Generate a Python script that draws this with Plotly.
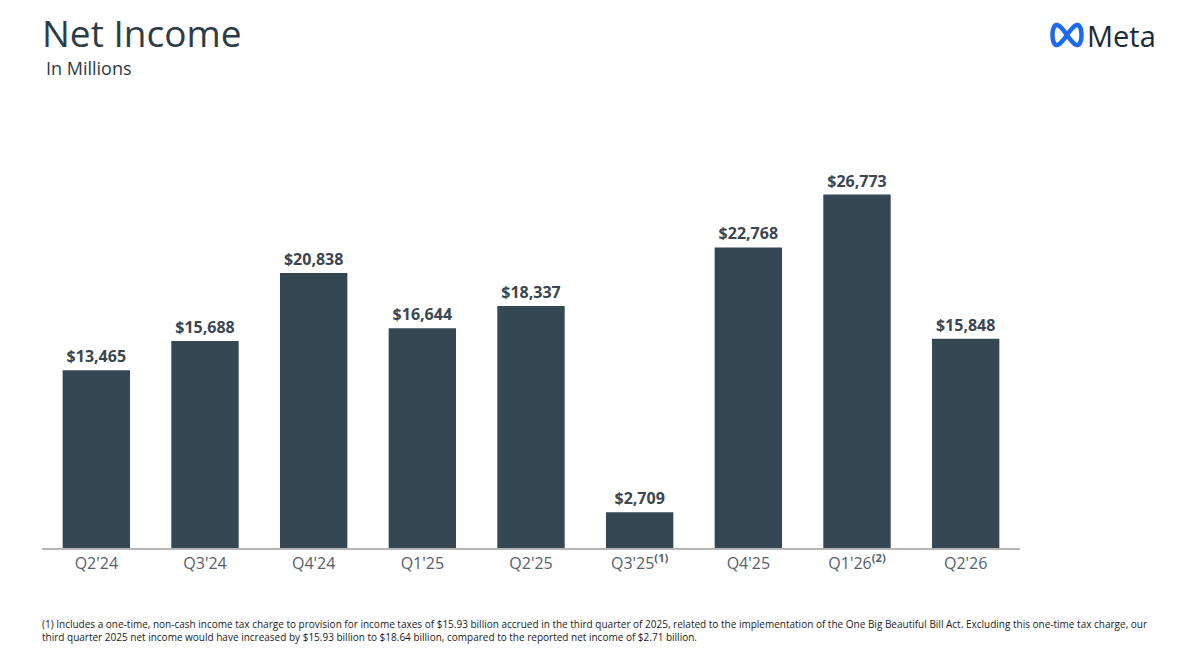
import math
import plotly.graph_objects as go

categories = ["Q2'24", "Q3'24", "Q4'24", "Q1'25", "Q2'25", "Q3'25", "Q4'25", "Q1'26", "Q2'26"]
tick_labels = ["Q2'24", "Q3'24", "Q4'24", "Q1'25", "Q2'25",
               "Q3'25<sup><b>(1)</b></sup>", "Q4'25", "Q1'26<sup><b>(2)</b></sup>", "Q2'26"]
net_income = [13465, 15688, 20838, 16644, 18337, 2709, 22768, 26773, 15848]

footnote = ("(1) Includes a one-time, non-cash income tax charge to provision for income taxes of $15.93 billion accrued in the third quarter of 2025, "
            "related to the implementation of the One Big Beautiful Bill Act. Excluding this one-time tax charge, our<br>"
            "third quarter 2025 net income would have increased by $15.93 billion to $18.64 billion, compared to the reported net income of $2.71 billion.")

W, H = 1200, 651
ML, MR, MT, MB = 42, 180, 152, 103

def px(x):
    return (x - ML) / (W - ML - MR)

def py(y):
    return (H - MB - y) / (H - MT - MB)

BAR = "#354752"
fig = go.Figure()
fig.add_trace(go.Bar(
    x=categories, y=net_income,
    marker=dict(color=BAR, line=dict(width=0)),
    texttemplate="$%{y:,}", textposition="outside",
    textfont=dict(family="Open Sans", size=16, color="#3a4650", weight="bold"),
    cliponaxis=False, hoverinfo="skip",
))

fig.update_layout(
    width=W, height=H,
    margin=dict(l=ML, r=MR, t=MT, b=MB),
    paper_bgcolor="white", plot_bgcolor="white",
    bargap=0.38, showlegend=False,
    xaxis=dict(tickmode="array", tickvals=categories, ticktext=tick_labels,
               showline=True, linecolor="#b5b5b5", linewidth=1.5,
               ticks="", showgrid=False,
               tickfont=dict(family="Open Sans", size=16, color="#56616a")),
    yaxis=dict(range=[0, 30000], visible=False, showgrid=False, zeroline=False),
    annotations=[
        dict(text="Net Income", xref="paper", yref="paper", x=px(40), y=py(33),
             xanchor="left", yanchor="middle", showarrow=False,
             font=dict(family="Open Sans", size=37, color="#2c3d48")),
        dict(text="In Millions", xref="paper", yref="paper", x=px(44), y=py(68),
             xanchor="left", yanchor="middle", showarrow=False,
             font=dict(family="Open Sans", size=18, color="#2c3d48")),
        dict(text="Meta", xref="paper", yref="paper", x=px(1085), y=py(35),
             xanchor="left", yanchor="middle", showarrow=False,
             font=dict(family="Open Sans", size=29, color="#1c2b33", weight=500)),
        dict(text=footnote, xref="paper", yref="paper", x=px(40), y=py(630),
             xanchor="left", yanchor="middle", align="left", showarrow=False,
             font=dict(family="Open Sans", size=10, color="#1a1a1a")),
    ],
)

# Meta infinity logo drawn as a lemniscate path (paper coords)
cx, cy, ax, ay = 1067, 35, 14.5, 20
pts = []
for i in range(61):
    t = 2 * math.pi * i / 60
    pts.append((cx + ax * math.cos(t), cy + ay * math.sin(t) * math.cos(t)))
path = "M " + " L ".join(f"{px(x):.5f},{py(y):.5f}" for x, y in pts) + " Z"
fig.add_shape(type="path", xref="paper", yref="paper", path=path,
              line=dict(color="#1d6af2", width=4.5))

fig.write_html("out.html")
